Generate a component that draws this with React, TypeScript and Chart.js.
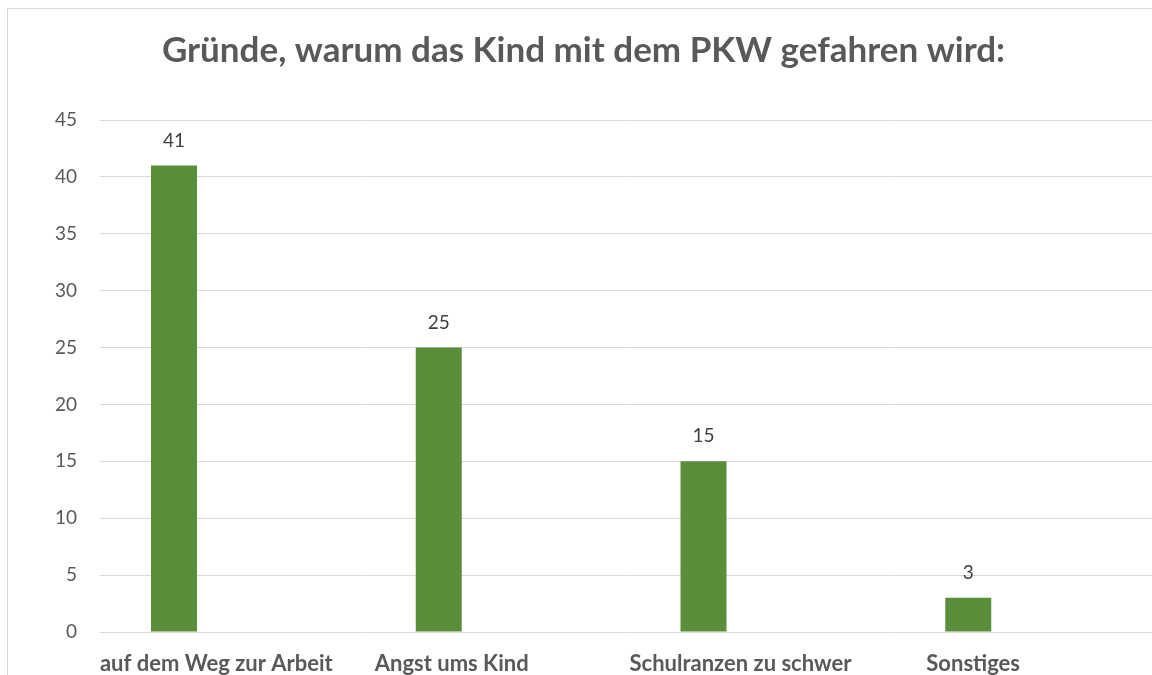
import React, { useEffect, useRef } from "react";
import { Chart, registerables } from "chart.js";

Chart.register(...registerables);

const categories = ["auf dem Weg zur Arbeit", "Angst ums Kind", "Schulranzen zu schwer", "Sonstiges"];
const values = [41, 25, 15, 3];
const labelPads = [6, 17, 8, 20];
const yTicksMax = 45;
const yTickStep = 5;
const titleText = "Gründe, warum das Kind mit dem PKW gefahren wird:";

const FONT = "Lato, 'Open Sans', sans-serif";

const valueLabels = {
  id: "valueLabels",
  afterDatasetsDraw(chart: any) {
    const ctx = chart.ctx;
    const meta = chart.getDatasetMeta(0);
    ctx.save();
    ctx.font = `19px ${FONT}`;
    ctx.fillStyle = "#404040";
    ctx.textAlign = "center";
    ctx.textBaseline = "middle";
    meta.data.forEach((bar: any, i: number) => {
      ctx.fillText(String(values[i]), bar.x, bar.y - 25);
    });
    ctx.restore();
  },
};

export default function App() {
  const ref = useRef<HTMLCanvasElement | null>(null);
  useEffect(() => {
    if (!ref.current) return;
    const chart = new Chart(ref.current, {
      type: "bar",
      data: {
        labels: categories,
        datasets: [
          {
            label: "Anzahl",
            data: values,
            backgroundColor: "#5B8E3A",
            borderWidth: 0,
            categoryPercentage: 0.882,
            barPercentage: 0.394,
          },
          {
            label: "",
            data: [],
            backgroundColor: "#5B8E3A",
            categoryPercentage: 0.882,
            barPercentage: 0.394,
          },
        ],
      },
      options: {
        animation: false,
        responsive: false,
        maintainAspectRatio: false,
        layout: { padding: 0 },
        plugins: {
          legend: { display: false },
          tooltip: { enabled: false },
          title: {
            display: true,
            text: titleText,
            color: "#595959",
            font: { family: FONT, size: 35, weight: "bold", lineHeight: 1.2 },
            padding: { top: 21, bottom: 48 },
          },
        },
        scales: {
          x: {
            grid: { display: false, drawTicks: false },
            border: { display: false },
            ticks: {
              color: "#595959",
              font: { family: FONT, size: 22, weight: "bold", lineHeight: 1.2 },
              padding: 19,
              maxRotation: 0,
              autoSkip: false,
              callback: (_v: any, i: number) => categories[i] + " ".repeat(labelPads[i]),
            },
            afterFit: (s: any) => {
              s.height = 57;
            },
          },
          y: {
            min: 0,
            max: yTicksMax,
            grid: { color: "#D9D9D9", lineWidth: 1, drawTicks: false },
            border: { display: false },
            ticks: {
              stepSize: yTickStep,
              color: "#595959",
              font: { family: FONT, size: 19 },
              padding: 23,
            },
            afterFit: (s: any) => {
              s.width = 92;
            },
          },
        },
      },
      plugins: [valueLabels],
    });
    return () => chart.destroy();
  }, []);

  return (
    <div
      style={{
        position: "fixed",
        left: 7,
        top: 8,
        width: 1145,
        height: 667,
        borderTop: "1px solid #D9D9D9",
        borderLeft: "1px solid #D9D9D9",
        overflow: "hidden",
        background: "#fff",
      }}
    >
      <canvas ref={ref} width={1151} height={680} style={{ display: "block", width: 1151, height: 680 }} />
    </div>
  );
}
